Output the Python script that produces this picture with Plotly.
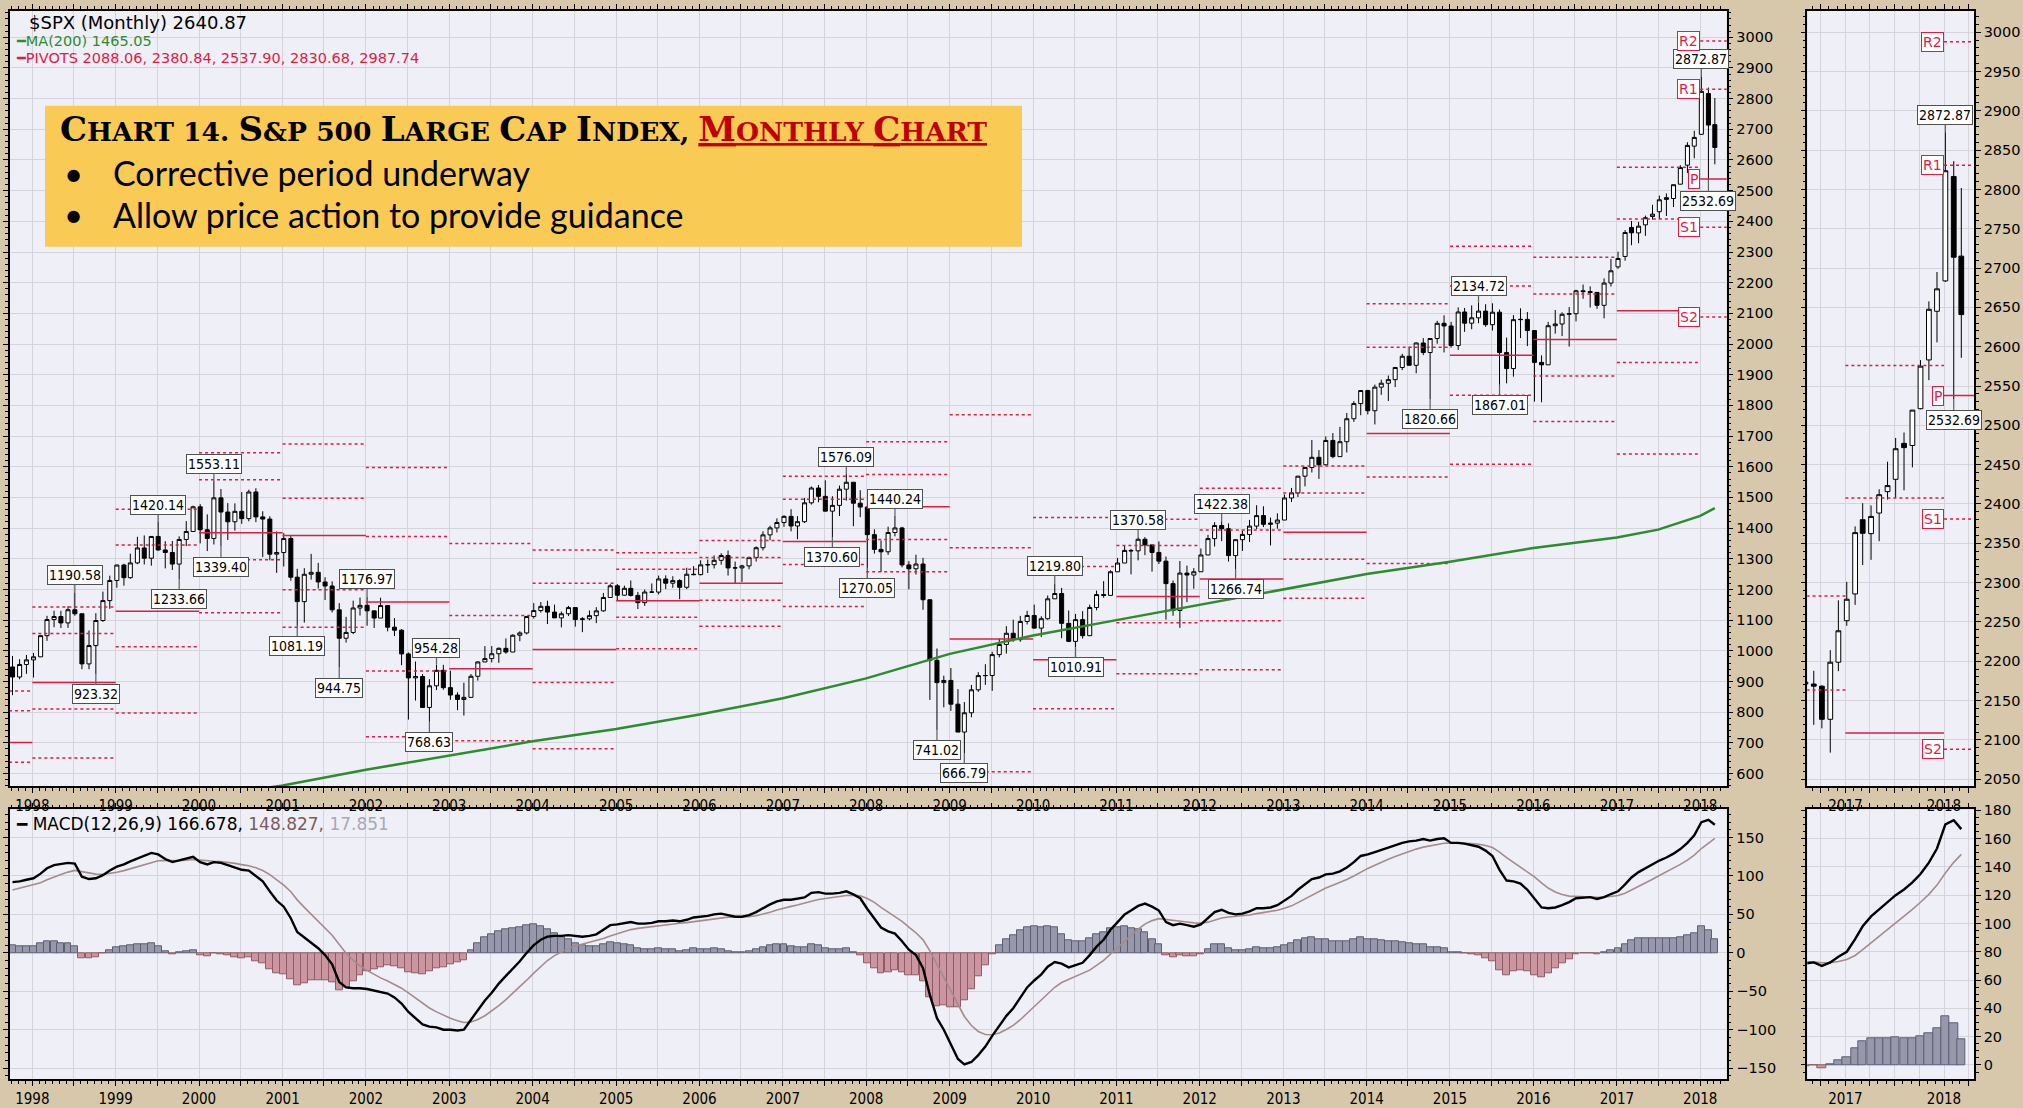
import plotly.graph_objects as go
import pandas as pd

W, H = 2023, 1108

# ---------------- monthly S&P 500 candles, Oct 1997 .. Mar 2018 ----------------
first_month = "1997-10-01"
opens = [
    947.3, 914.6, 955.4,
    970.4, 980.3, 1049.3, 1101.8, 1111.8, 1090.8, 1133.8, 1120.7, 957.3, 1017.0, 1098.7, 1163.6,
    1229.2, 1279.6, 1238.3, 1286.4, 1335.2, 1301.8, 1372.7, 1328.7, 1320.4, 1282.7, 1362.9, 1388.9,
    1469.3, 1394.5, 1366.4, 1498.6, 1452.4, 1420.6, 1454.6, 1430.8, 1517.7, 1436.5, 1429.4, 1315.0,
    1320.3, 1366.0, 1239.9, 1160.3, 1249.5, 1255.8, 1224.4, 1211.2, 1133.6, 1040.9, 1059.8, 1139.5,
    1148.1, 1130.2, 1106.7, 1147.4, 1076.9, 1067.1, 989.8, 911.6, 916.1, 815.3, 885.8, 936.3,
    879.8, 855.7, 841.2, 848.2, 916.9, 963.6, 974.5, 990.3, 1008.0, 996.0, 1050.7, 1058.2,
    1111.9, 1131.1, 1144.9, 1126.2, 1107.3, 1120.7, 1140.8, 1101.7, 1104.2, 1114.6, 1130.2, 1173.8,
    1211.9, 1181.3, 1203.6, 1180.6, 1156.9, 1191.5, 1191.3, 1234.2, 1220.3, 1228.8, 1207.0, 1249.5,
    1248.3, 1280.1, 1280.7, 1294.9, 1310.6, 1270.1, 1270.2, 1276.7, 1303.8, 1335.9, 1377.9, 1400.6,
    1418.3, 1438.2, 1406.8, 1420.9, 1482.4, 1530.6, 1503.4, 1455.3, 1474.0, 1526.8, 1549.4, 1481.1,
    1468.4, 1378.6, 1330.6, 1322.7, 1385.6, 1400.4, 1280.0, 1267.4, 1282.8, 1166.4, 968.8, 896.2,
    903.3, 825.9, 735.1, 797.9, 872.8, 919.1, 919.3, 987.5, 1020.6, 1057.1, 1036.2, 1095.6,
    1115.1, 1073.9, 1104.5, 1169.4, 1186.7, 1089.4, 1030.7, 1101.6, 1049.3, 1141.2, 1183.3, 1180.6,
    1257.6, 1286.1, 1327.2, 1325.8, 1363.6, 1345.2, 1320.6, 1292.3, 1218.9, 1131.4, 1253.3, 1247.0,
    1257.6, 1312.4, 1365.7, 1408.5, 1397.9, 1310.3, 1362.2, 1379.3, 1406.6, 1440.7, 1412.2, 1416.2,
    1426.2, 1498.1, 1514.7, 1569.2, 1597.6, 1630.7, 1606.3, 1685.7, 1633.0, 1681.6, 1756.5, 1805.8,
    1848.4, 1782.6, 1859.5, 1872.3, 1884.0, 1923.6, 1960.2, 1930.7, 2003.4, 1972.3, 2018.1, 2067.6,
    2058.9, 1995.0, 2104.5, 2067.9, 2085.5, 2107.4, 2063.1, 2103.8, 1972.2, 1920.0, 2079.4, 2080.4,
    2043.9, 1940.2, 1932.2, 2059.7, 2065.3, 2097.0, 2098.9, 2173.6, 2171.0, 2168.3, 2126.2, 2198.8,
    2251.6, 2285.6, 2380.1, 2362.3, 2388.5, 2415.7, 2431.4, 2477.1, 2474.4, 2521.2, 2583.2, 2645.1,
    2683.7, 2816.5, 2715.2,
]
highs = [
    983.1, 972.6, 986.3,
    992.7, 1051.7, 1113.9, 1130.5, 1130.3, 1145.3, 1190.6, 1121.4, 1066.1, 1122.6, 1193.0, 1244.9,
    1280.4, 1283.8, 1316.6, 1371.6, 1376.0, 1372.9, 1420.1, 1357.3, 1357.8, 1373.2, 1422.7, 1473.1,
    1478.0, 1444.6, 1553.1, 1527.2, 1481.5, 1480.6, 1517.3, 1525.2, 1530.1, 1454.8, 1438.5, 1389.1,
    1383.4, 1376.4, 1267.4, 1269.3, 1315.9, 1286.6, 1239.8, 1226.3, 1155.4, 1110.6, 1163.4, 1173.6,
    1177.0, 1130.2, 1173.0, 1147.8, 1106.6, 1070.7, 994.5, 965.0, 924.0, 907.4, 954.3, 954.2,
    935.1, 864.6, 895.9, 924.2, 965.4, 1015.3, 1015.4, 1011.0, 1040.3, 1053.8, 1063.7, 1112.6,
    1155.4, 1158.9, 1163.2, 1150.6, 1127.7, 1146.3, 1140.8, 1109.7, 1131.5, 1142.1, 1188.5, 1217.3,
    1217.8, 1212.4, 1229.1, 1191.9, 1199.6, 1219.6, 1245.2, 1245.9, 1243.1, 1233.3, 1270.6, 1275.8,
    1294.9, 1297.6, 1310.9, 1318.2, 1326.7, 1290.7, 1280.4, 1306.7, 1340.3, 1389.5, 1407.9, 1431.8,
    1441.6, 1461.6, 1438.9, 1498.0, 1535.6, 1540.6, 1555.9, 1503.9, 1538.7, 1576.1, 1549.4, 1523.6,
    1471.8, 1396.0, 1359.7, 1404.6, 1440.2, 1404.1, 1292.2, 1313.2, 1303.0, 1167.0, 1007.5, 918.9,
    943.9, 875.0, 832.9, 888.7, 930.2, 956.2, 996.7, 1039.5, 1080.2, 1101.4, 1113.7, 1130.4,
    1150.5, 1112.4, 1180.2, 1219.8, 1205.1, 1131.2, 1120.0, 1129.2, 1150.3, 1196.1, 1227.1, 1262.6,
    1302.7, 1344.1, 1332.3, 1370.6, 1370.6, 1345.2, 1356.5, 1307.4, 1229.3, 1292.7, 1277.6, 1269.4,
    1333.5, 1378.0, 1419.2, 1422.4, 1415.3, 1363.5, 1391.7, 1426.7, 1474.5, 1471.0, 1434.3, 1448.0,
    1509.9, 1530.9, 1570.3, 1597.6, 1687.2, 1654.2, 1698.8, 1709.7, 1729.9, 1775.2, 1813.6, 1849.4,
    1850.8, 1867.9, 1884.0, 1897.3, 1924.0, 1968.2, 1991.4, 2005.0, 2019.3, 2018.2, 2075.8, 2093.6,
    2072.4, 2119.6, 2117.5, 2125.9, 2134.7, 2129.9, 2132.8, 2112.7, 2021.0, 2094.3, 2116.5, 2104.3,
    2043.9, 1963.0, 2072.2, 2111.1, 2103.5, 2120.6, 2177.1, 2193.8, 2187.9, 2169.6, 2214.1, 2277.5,
    2301.0, 2371.5, 2401.0, 2398.2, 2418.7, 2453.8, 2484.0, 2490.9, 2519.4, 2583.0, 2657.7, 2695.0,
    2872.9, 2836.0, 2801.9,
]
lows = [
    855.3, 907.1, 924.9,
    912.8, 980.3, 1032.4, 1076.7, 1074.4, 1074.7, 1114.3, 940.0, 939.9, 923.3, 1094.1, 1136.9,
    1205.5, 1212.2, 1234.7, 1282.6, 1281.4, 1277.5, 1326.0, 1268.7, 1263.4, 1233.7, 1341.0, 1387.4,
    1350.1, 1325.1, 1346.6, 1339.4, 1361.1, 1391.5, 1413.9, 1421.9, 1419.4, 1305.8, 1294.9, 1254.1,
    1274.6, 1228.3, 1081.2, 1092.0, 1232.0, 1203.0, 1165.5, 1124.9, 944.8, 1026.8, 1054.3, 1114.9,
    1081.7, 1074.4, 1106.7, 1063.5, 1048.0, 952.9, 775.7, 837.7, 815.3, 768.6, 872.0, 873.0,
    840.3, 806.3, 788.9, 847.9, 902.8, 963.6, 962.1, 960.8, 990.4, 995.9, 1031.2, 1053.4,
    1105.1, 1124.4, 1087.2, 1107.2, 1076.3, 1113.3, 1078.8, 1060.7, 1099.2, 1090.2, 1127.6, 1173.8,
    1163.8, 1180.1, 1176.8, 1136.2, 1146.2, 1188.3, 1183.6, 1201.1, 1205.4, 1168.2, 1201.1, 1246.6,
    1245.7, 1253.6, 1268.4, 1280.7, 1245.3, 1219.3, 1224.5, 1265.7, 1290.9, 1327.1, 1360.5, 1385.9,
    1403.9, 1389.4, 1364.0, 1416.4, 1476.7, 1484.2, 1454.3, 1370.6, 1439.3, 1489.6, 1406.1, 1435.7,
    1270.1, 1316.8, 1257.0, 1312.8, 1373.1, 1272.0, 1200.4, 1248.6, 1133.5, 839.8, 741.0, 815.7,
    804.2, 734.5, 666.8, 783.3, 866.1, 888.9, 869.3, 978.5, 991.0, 1029.4, 1029.4, 1085.9,
    1071.6, 1044.5, 1101.4, 1169.4, 1040.8, 1028.3, 1010.9, 1039.7, 1048.1, 1131.9, 1173.0, 1179.5,
    1257.6, 1286.1, 1249.1, 1294.7, 1311.8, 1258.1, 1282.9, 1101.5, 1114.2, 1074.8, 1158.7, 1202.4,
    1257.6, 1312.4, 1340.0, 1357.4, 1291.0, 1266.7, 1325.4, 1354.7, 1396.6, 1403.3, 1343.4, 1398.1,
    1426.2, 1485.0, 1501.5, 1536.0, 1581.3, 1560.3, 1604.6, 1627.5, 1633.0, 1646.5, 1746.2, 1767.9,
    1770.5, 1737.9, 1834.4, 1814.4, 1859.8, 1915.0, 1930.7, 1904.8, 1964.0, 1820.7, 2001.0, 1972.6,
    1988.1, 1980.9, 2039.7, 2048.4, 2067.9, 2056.3, 2044.0, 1867.0, 1871.9, 1893.7, 2019.4, 1993.3,
    1812.3, 1810.1, 1932.2, 2033.8, 2025.9, 1991.7, 2074.0, 2147.6, 2119.1, 2114.7, 2083.8, 2187.4,
    2245.1, 2271.7, 2322.3, 2329.0, 2352.7, 2405.7, 2407.7, 2417.4, 2446.6, 2520.4, 2557.5, 2605.5,
    2682.4, 2532.7, 2585.9,
]
closes = [
    914.6, 955.4, 970.4,
    980.3, 1049.3, 1101.8, 1111.8, 1090.8, 1133.8, 1120.7, 957.3, 1017.0, 1098.7, 1163.6, 1229.2,
    1279.6, 1238.3, 1286.4, 1335.2, 1301.8, 1372.7, 1328.7, 1320.4, 1282.7, 1362.9, 1388.9, 1469.3,
    1394.5, 1366.4, 1498.6, 1452.4, 1420.6, 1454.6, 1430.8, 1517.7, 1436.5, 1429.4, 1315.0, 1320.3,
    1366.0, 1239.9, 1160.3, 1249.5, 1255.8, 1224.4, 1211.2, 1133.6, 1040.9, 1059.8, 1139.5, 1148.1,
    1130.2, 1106.7, 1147.4, 1076.9, 1067.1, 989.8, 911.6, 916.1, 815.3, 885.8, 936.3, 879.8,
    855.7, 841.2, 848.2, 916.9, 963.6, 974.5, 990.3, 1008.0, 996.0, 1050.7, 1058.2, 1111.9,
    1131.1, 1144.9, 1126.2, 1107.3, 1120.7, 1140.8, 1101.7, 1104.2, 1114.6, 1130.2, 1173.8, 1211.9,
    1181.3, 1203.6, 1180.6, 1156.9, 1191.5, 1191.3, 1234.2, 1220.3, 1228.8, 1207.0, 1249.5, 1248.3,
    1280.1, 1280.7, 1294.9, 1310.6, 1270.1, 1270.2, 1276.7, 1303.8, 1335.9, 1377.9, 1400.6, 1418.3,
    1438.2, 1406.8, 1420.9, 1482.4, 1530.6, 1503.4, 1455.3, 1474.0, 1526.8, 1549.4, 1481.1, 1468.4,
    1378.6, 1330.6, 1322.7, 1385.6, 1400.4, 1280.0, 1267.4, 1282.8, 1166.4, 968.8, 896.2, 903.3,
    825.9, 735.1, 797.9, 872.8, 919.1, 919.3, 987.5, 1020.6, 1057.1, 1036.2, 1095.6, 1115.1,
    1073.9, 1104.5, 1169.4, 1186.7, 1089.4, 1030.7, 1101.6, 1049.3, 1141.2, 1183.3, 1180.6, 1257.6,
    1286.1, 1327.2, 1325.8, 1363.6, 1345.2, 1320.6, 1292.3, 1218.9, 1131.4, 1253.3, 1247.0, 1257.6,
    1312.4, 1365.7, 1408.5, 1397.9, 1310.3, 1362.2, 1379.3, 1406.6, 1440.7, 1412.2, 1416.2, 1426.2,
    1498.1, 1514.7, 1569.2, 1597.6, 1630.7, 1606.3, 1685.7, 1633.0, 1681.6, 1756.5, 1805.8, 1848.4,
    1782.6, 1859.5, 1872.3, 1884.0, 1923.6, 1960.2, 1930.7, 2003.4, 1972.3, 2018.1, 2067.6, 2058.9,
    1995.0, 2104.5, 2067.9, 2085.5, 2107.4, 2063.1, 2103.8, 1972.2, 1920.0, 2079.4, 2080.4, 2043.9,
    1940.2, 1932.2, 2059.7, 2065.3, 2097.0, 2098.9, 2173.6, 2171.0, 2168.3, 2126.2, 2198.8, 2238.8,
    2278.9, 2363.6, 2362.7, 2384.2, 2411.8, 2423.4, 2470.3, 2471.7, 2519.4, 2575.3, 2647.6, 2673.6,
    2823.8, 2713.8, 2640.87,
]

# ---------------- MACD(12,26,9) monthly ----------------
macd_line = [
    92, 93, 95,
    97, 103, 110, 114, 115, 117, 116, 99, 96, 97, 101, 107,
    112, 115, 119, 123, 126, 130, 128, 122, 118, 120, 123, 125,
    118, 115, 118, 117, 114, 111, 108, 107, 100, 93, 80, 68,
    60, 45, 27, 20, 14, 6, -3, -15, -38, -45, -46, -46,
    -47, -49, -51, -53, -58, -66, -77, -85, -93, -96, -97, -100,
    -100, -101, -100, -87, -74, -62, -52, -40, -30, -21, -11, 0,
    10, 17, 21, 22, 22, 23, 22, 21, 22, 24, 30, 36,
    37, 39, 40, 38, 38, 39, 41, 41, 42, 41, 43, 46,
    47, 48, 50, 51, 49, 47, 47, 49, 53, 58, 63, 67,
    69, 69, 70, 72, 78, 79, 77, 77, 78, 80, 76, 71,
    57, 45, 33, 28, 25, 15, 4, -3, -20, -55, -85, -100,
    -120, -138, -145, -142, -133, -122, -108, -95, -82, -72, -58, -45,
    -36, -28, -18, -12, -14, -19, -16, -13, -3, 8, 17, 30,
    40, 50, 55, 61, 64, 60, 55, 40, 36, 38, 36, 34,
    37, 45, 53, 56, 52, 50, 51, 54, 58, 58, 59, 62,
    68, 74, 82, 89, 96, 98, 102, 103, 106, 111, 118, 126,
    128, 131, 134, 137, 140, 143, 145, 146, 148, 146, 148, 149,
    143, 143, 142, 140, 138, 133, 126, 108, 94, 93, 90, 82,
    70, 59, 58, 59, 62, 66, 71, 72, 72.5, 70, 72.5, 76.5,
    80, 89, 98, 105, 110, 115, 120, 124, 129, 135, 143, 153,
    170, 173, 166.678,
]
signal_line = [
    81.6, 83.9, 86.1,
    88.3, 91.2, 95.0, 98.8, 102.0, 105.0, 107.2, 105.6, 103.7, 102.4, 102.1, 103.1,
    104.9, 106.9, 109.3, 112.0, 114.8, 117.8, 119.8, 120.2, 119.8, 119.8, 120.4, 121.3,
    120.6, 119.5, 119.2, 118.8, 117.8, 116.4, 114.7, 113.2, 110.6, 107.1, 101.7, 95.0,
    88.0, 79.4, 68.9, 59.1, 50.1, 41.3, 32.4, 22.9, 10.7, -0.4, -9.5, -16.8,
    -22.8, -28.0, -32.6, -36.7, -41.0, -46.0, -52.2, -58.8, -65.6, -71.7, -76.8, -81.4,
    -85.1, -88.3, -90.6, -89.9, -86.7, -81.8, -75.8, -68.6, -60.9, -52.9, -44.5, -35.6,
    -26.5, -17.8, -10.0, -3.6, 1.5, 5.8, 9.0, 11.4, 13.5, 15.6, 18.5, 22.0,
    25.0, 27.8, 30.2, 31.8, 33.0, 34.2, 35.6, 36.7, 37.8, 38.4, 39.3, 40.6,
    41.9, 43.1, 44.5, 45.8, 46.4, 46.5, 46.6, 47.1, 48.3, 50.2, 52.8, 55.6,
    58.3, 60.4, 62.3, 64.2, 67.0, 69.4, 70.9, 72.1, 73.3, 74.6, 74.9, 74.1,
    70.7, 65.6, 59.1, 52.9, 47.3, 40.8, 33.4, 26.1, 16.9, 2.5, -15.0, -32.0,
    -49.6, -67.3, -82.8, -94.6, -102.3, -106.2, -106.6, -104.3, -99.8, -94.3, -87.0, -78.6,
    -70.1, -61.7, -53.0, -44.8, -38.6, -34.7, -31.0, -27.4, -22.5, -16.4, -9.7, -1.8,
    6.6, 15.3, 23.2, 30.8, 37.4, 41.9, 44.5, 43.6, 42.1, 41.3, 40.2, 39.0,
    38.6, 39.9, 42.5, 45.2, 46.6, 47.3, 48.0, 49.2, 51.0, 52.4, 53.7, 55.4,
    57.9, 61.1, 65.3, 70.0, 75.2, 79.8, 84.2, 88.0, 91.6, 95.5, 100.0, 105.2,
    109.8, 114.0, 118.0, 121.8, 125.4, 128.9, 132.1, 134.9, 137.5, 139.2, 141.0, 142.6,
    142.7, 142.8, 142.6, 142.1, 141.3, 139.6, 136.9, 131.1, 123.7, 117.6, 112.1, 106.1,
    98.9, 90.9, 84.3, 79.2, 75.8, 73.8, 73.2, 73.0, 72.9, 72.3, 72.3, 73.1,
    74.5, 77.4, 81.5, 86.2, 91.0, 95.8, 100.6, 105.3, 110.0, 115.0, 120.6, 127.1,
    135.7, 143.2, 148.827,
]
macd_hist = [
    10.4, 9.1, 8.9,
    8.7, 11.8, 15.0, 15.2, 13.0, 12.0, 8.8, -6.6, -7.7, -5.4, -1.1, 3.9,
    7.1, 8.1, 9.7, 11.0, 11.2, 12.2, 8.2, 1.8, -1.8, 0.2, 2.6, 3.7,
    -2.6, -4.5, -1.2, -1.8, -3.8, -5.4, -6.7, -6.2, -10.6, -14.1, -21.7, -27.0,
    -28.0, -34.4, -41.9, -39.1, -36.1, -35.3, -35.4, -37.9, -48.7, -44.6, -36.5, -29.2,
    -24.2, -21.0, -18.4, -16.3, -17.0, -20.0, -24.8, -26.2, -27.4, -24.3, -20.2, -18.6,
    -14.9, -12.7, -9.4, 2.9, 12.7, 19.8, 23.8, 28.6, 30.9, 31.9, 33.5, 35.6,
    36.5, 34.8, 31.0, 25.6, 20.5, 17.2, 13.0, 9.6, 8.5, 8.4, 11.5, 14.0,
    12.0, 11.2, 9.8, 6.2, 5.0, 4.8, 5.4, 4.3, 4.2, 2.6, 3.7, 5.4,
    5.1, 4.9, 5.5, 5.2, 2.6, 0.5, 0.4, 1.9, 4.7, 7.8, 10.2, 11.4,
    10.7, 8.6, 7.7, 7.8, 11.0, 9.6, 6.1, 4.9, 4.7, 5.4, 1.1, -3.1,
    -13.7, -20.6, -26.1, -24.9, -22.3, -25.8, -29.4, -29.1, -36.9, -57.5, -70.0, -68.0,
    -70.4, -70.7, -62.2, -47.4, -30.7, -15.8, -1.4, 9.3, 17.8, 22.3, 29.0, 33.6,
    34.1, 33.7, 35.0, 32.8, 24.6, 15.7, 15.0, 14.4, 19.5, 24.4, 26.7, 31.8,
    33.4, 34.7, 31.8, 30.2, 26.6, 18.1, 10.5, -3.6, -6.1, -3.3, -4.2, -5.0,
    -1.6, 5.1, 10.5, 10.8, 5.4, 2.7, 3.0, 4.8, 7.0, 5.6, 5.3, 6.6,
    10.1, 12.9, 16.7, 19.0, 20.8, 18.2, 17.8, 15.0, 14.4, 15.5, 18.0, 20.8,
    18.2, 17.0, 16.0, 15.2, 14.6, 14.1, 12.9, 11.1, 10.5, 6.8, 7.0, 6.4,
    0.3, 0.2, -0.6, -2.1, -3.3, -6.6, -10.9, -23.1, -29.7, -24.6, -22.1, -24.1,
    -28.9, -31.9, -26.3, -20.2, -13.8, -7.8, -2.2, -1.0, -0.4, -2.3, 0.2, 3.4,
    5.5, 11.6, 16.5, 18.8, 19.0, 19.2, 19.4, 18.7, 19.0, 20.0, 22.4, 25.9,
    34.3, 29.8, 17.851,
]

# ---------------- 200-month moving average ----------------
ma_dates = ["2000-07-01", "2001-01-01", "2002-01-01", "2003-01-01", "2004-01-01", "2005-01-01",
            "2006-01-01", "2007-01-01", "2008-01-01", "2009-01-01", "2010-01-01", "2011-01-01",
            "2012-01-01", "2013-01-01", "2014-01-01", "2015-01-01", "2016-01-01", "2017-01-01",
            "2017-07-01", "2018-01-01", "2018-03-06"]
ma_values = [540, 561, 612, 658, 705, 745, 792, 845, 910, 990, 1050, 1100,
             1150, 1200, 1250, 1290, 1335, 1369, 1395, 1440, 1465.05]

# ---------------- annual pivot levels ----------------
pivot_years = list(range(1997, 2019))
piv_p = [701.1, 896.9, 1129.0, 1384.9, 1375.7, 1158.7, 941.8, 1004.5, 1163.3, 1220.1, 1356.5,
         1469.5, 1038.7, 970.8, 1177.1, 1234.3, 1386.5, 1708.0, 1963.5, 2015.2, 2108.8, 2537.90]
piv_r1 = [804.9, 1056.7, 1345.2, 1557.5, 1497.4, 1372.7, 1115.0, 1220.1, 1265.9, 1304.0, 1493.7,
          1575.0, 1336.3, 1274.7, 1343.2, 1393.9, 1514.2, 1989.8, 2189.1, 2163.4, 2407.5, 2830.68]
piv_s1 = [637.0, 810.6, 1013.1, 1296.6, 1198.6, 934.1, 706.6, 896.4, 1109.3, 1164.4, 1281.2,
          1362.9, 605.6, 811.2, 1091.5, 1098.0, 1298.5, 1566.6, 1833.4, 1895.7, 1940.1, 2380.84]
piv_r2 = [869.0, 1143.0, 1461.1, 1645.8, 1674.5, 1597.3, 1350.1, 1328.2, 1319.9, 1359.7, 1569.0,
          1681.6, 1769.4, 1434.4, 1428.8, 1530.1, 1602.2, 2131.3, 2319.1, 2282.9, 2576.2, 2987.74]
piv_s2 = [533.2, 650.7, 796.9, 1123.9, 1076.9, 720.1, 533.5, 680.8, 1006.7, 1080.4, 1144.0,
          1257.4, 307.9, 507.2, 925.4, 938.5, 1170.9, 1284.8, 1607.9, 1747.5, 1641.4, 2088.06]

# ---------------- labelled highs / lows ----------------
label_months = ["1998-07", "1998-10", "1999-07", "1999-10", "2000-03", "2000-04", "2001-03",
                "2001-09", "2002-01", "2002-10", "2002-11", "2007-10", "2007-08", "2008-05",
                "2008-01", "2008-11", "2009-03", "2010-04", "2010-07", "2011-04", "2012-04",
                "2012-06", "2014-10", "2015-05", "2015-08", "2018-01", "2018-02"]
label_values = [1190.58, 923.32, 1420.14, 1233.66, 1553.11, 1339.40, 1081.19, 944.75, 1176.97,
                768.63, 954.28, 1576.09, 1370.60, 1440.24, 1270.05, 741.02, 666.79, 1219.80,
                1010.91, 1370.58, 1422.38, 1266.74, 1820.66, 2134.72, 1867.01, 2872.87, 2532.69]
label_kind = ["high", "low", "high", "low", "high", "low", "low", "low", "high", "low", "high",
              "high", "low", "high", "low", "low", "low", "high", "low", "high", "high", "low",
              "low", "high", "low", "high", "low"]
zoom_label_months = ["2018-01", "2018-02"]
zoom_label_values = [2872.87, 2532.69]
zoom_label_kind = ["high", "low"]

pivot_tags = ["R2", "R1", "P", "S1", "S2"]

# ---------------- styling ----------------
TAN = "#D7C8AC"
PLOT_BG = "#EEEFF7"
GRID = "#D4D4DA"
RED = "#DC1E46"
GREEN = "#2E8B2E"
SIG = "#A48C8C"
POS_FILL, POS_LINE = "#9898AC", "#5E5E72"
NEG_FILL, NEG_LINE = "#CC96A0", "#8E5C66"

months = pd.date_range(first_month, periods=len(closes), freq="MS") + pd.Timedelta(days=5)
xdates = [d.strftime("%Y-%m-%d") for d in months]


def mday(ym):
    return ym + "-06"


fig = go.Figure()

candle_style = dict(
    increasing=dict(line=dict(color="black", width=1), fillcolor="white"),
    decreasing=dict(line=dict(color="black", width=1), fillcolor="black"),
    whiskerwidth=0, showlegend=False, hoverinfo="skip",
)


def pivot_xy(levels):
    xs, ys = [], []
    for yr, lv in zip(pivot_years, levels):
        end = f"{yr + 1}-01-01" if yr < pivot_years[-1] else f"{yr}-05-01"
        xs += [f"{yr}-01-01", end, None]
        ys += [lv, lv, None]
    return xs, ys


for xa, ya in (("x", "y"), ("x2", "y2")):
    for lv in (piv_r2, piv_r1, piv_s1, piv_s2):
        px_, py_ = pivot_xy(lv)
        fig.add_trace(go.Scatter(x=px_, y=py_, mode="lines", xaxis=xa, yaxis=ya,
                                 line=dict(color=RED, width=1.5, dash="dot"),
                                 hoverinfo="skip", showlegend=False))
    px_, py_ = pivot_xy(piv_p)
    fig.add_trace(go.Scatter(x=px_, y=py_, mode="lines", xaxis=xa, yaxis=ya,
                             line=dict(color=RED, width=1.5), hoverinfo="skip", showlegend=False))

fig.add_trace(go.Scatter(x=ma_dates, y=ma_values, mode="lines", xaxis="x", yaxis="y",
                         line=dict(color=GREEN, width=2.5), hoverinfo="skip", showlegend=False))

fig.add_trace(go.Candlestick(x=xdates, open=opens, high=highs, low=lows, close=closes,
                             xaxis="x", yaxis="y", **candle_style))
fig.add_trace(go.Candlestick(x=xdates, open=opens, high=highs, low=lows, close=closes,
                             xaxis="x2", yaxis="y2", **candle_style))

bar_fill = [POS_FILL if v >= 0 else NEG_FILL for v in macd_hist]
bar_line = [POS_LINE if v >= 0 else NEG_LINE for v in macd_hist]
month_ms = 30.4 * 24 * 3600 * 1000
for xa, ya in (("x3", "y3"), ("x4", "y4")):
    fig.add_trace(go.Bar(x=xdates, y=macd_hist, xaxis=xa, yaxis=ya, width=[month_ms] * len(xdates),
                         marker=dict(color=bar_fill, line=dict(color=bar_line, width=1)),
                         hoverinfo="skip", showlegend=False))
    fig.add_trace(go.Scatter(x=xdates, y=signal_line, mode="lines", xaxis=xa, yaxis=ya,
                             line=dict(color=SIG, width=1.6), hoverinfo="skip", showlegend=False))
    fig.add_trace(go.Scatter(x=xdates, y=macd_line, mode="lines", xaxis=xa, yaxis=ya,
                             line=dict(color="black", width=2.4), hoverinfo="skip", showlegend=False))

# ---------------- axes ----------------
XFONT = dict(family="DejaVu Sans Condensed", size=15, color="black")
YFONT = dict(family="DejaVu Sans", size=14.5, color="black")
common = dict(showline=True, linecolor="black", linewidth=1.5, mirror="allticks",
              gridcolor=GRID, gridwidth=1, zeroline=False, ticks="outside",
              tickcolor="black", ticklen=5, tickwidth=1)

main_tickvals = [f"{y}-01-01" for y in range(1998, 2019)] + [f"{y}-07-01" for y in range(1997, 2018)]
main_ticktext = [str(y) for y in range(1998, 2019)] + [""] * 21
zoom_tickvals = ["2016-10-01", "2017-01-01", "2017-04-01", "2017-07-01", "2017-10-01",
                 "2018-01-01", "2018-04-01"]
zoom_ticktext = ["", "2017", "", "", "", "2018", ""]
minor_x = dict(tickmode="linear", dtick="M1", tick0="1997-01-01", ticks="outside",
               ticklen=3, tickcolor="black", showgrid=False)

main_range = ["1997-09-25", "2018-04-27"]
zoom_range = ["2016-08-13", "2018-04-22"]
xd_main = [10 / W, 1726.7 / W]
xd_zoom = [1807.3 / W, 1974 / W]
yd_price = [1 - 790 / H, 1 - 4 / H]
yd_macd = [1 - 1086.7 / H, 1 - 813.3 / H]

fig.update_layout(
    width=W, height=H, margin=dict(l=0, r=0, t=0, b=0),
    paper_bgcolor=TAN, plot_bgcolor=PLOT_BG, showlegend=False, bargap=0, boxgap=0.1,
    xaxis=dict(domain=xd_main, anchor="y", type="date", range=main_range, tickmode="array",
               tickvals=main_tickvals, ticktext=main_ticktext, tickfont=XFONT, minor=minor_x,
               rangeslider=dict(visible=False), **common),
    yaxis=dict(domain=yd_price, anchor="x", side="right", range=[558.2, 3085.9], tickmode="linear",
               tick0=0, dtick=100, tickfont=YFONT,
               minor=dict(dtick=20, ticks="outside", ticklen=3, tickcolor="black", showgrid=False),
               **common),
    xaxis2=dict(domain=xd_zoom, anchor="y2", type="date", range=zoom_range, tickmode="array",
                tickvals=zoom_tickvals, ticktext=zoom_ticktext, tickfont=XFONT, minor=minor_x,
                rangeslider=dict(visible=False), **common),
    yaxis2=dict(domain=yd_price, anchor="x2", side="right", range=[2041, 3027], tickmode="linear",
                tick0=0, dtick=50, tickfont=YFONT,
                minor=dict(dtick=10, ticks="outside", ticklen=3, tickcolor="black", showgrid=False),
                **common),
    xaxis3=dict(domain=xd_main, anchor="y3", type="date", range=main_range, tickmode="array",
                tickvals=main_tickvals, ticktext=main_ticktext, tickfont=XFONT, minor=minor_x,
                **common),
    yaxis3=dict(domain=yd_macd, anchor="x3", side="right", range=[-164.1, 186.7], tickmode="linear",
                tick0=0, dtick=50, tickfont=YFONT,
                minor=dict(dtick=10, ticks="outside", ticklen=3, tickcolor="black", showgrid=False),
                **common),
    xaxis4=dict(domain=xd_zoom, anchor="y4", type="date", range=zoom_range, tickmode="array",
                tickvals=zoom_tickvals, ticktext=zoom_ticktext, tickfont=XFONT, minor=minor_x,
                **common),
    yaxis4=dict(domain=yd_macd, anchor="x4", side="right", range=[-9.9, 180.7], tickmode="linear",
                tick0=0, dtick=20, tickfont=YFONT,
                minor=dict(dtick=5, ticks="outside", ticklen=3, tickcolor="black", showgrid=False),
                **common),
)

# ---------------- value call-outs ----------------
LBL_FONT = dict(family="DejaVu Sans Condensed", size=14, color="black")


def add_callouts(mlist, vlist, klist, xr, yr):
    for m, v, k in zip(mlist, vlist, klist):
        fig.add_annotation(x=mday(m), y=v, xref=xr, yref=yr, text=f"{v:.2f}",
                           showarrow=True, arrowhead=0, arrowwidth=1.2, arrowcolor="#606060",
                           ax=0, ay=-17 if k == "high" else 20, font=LBL_FONT,
                           bgcolor="white", bordercolor="#505050", borderwidth=1, borderpad=1)


add_callouts(label_months, label_values, label_kind, "x", "y")
add_callouts(zoom_label_months, zoom_label_values, zoom_label_kind, "x2", "y2")

tag_levels = [piv_r2[-1], piv_r1[-1], piv_p[-1], piv_s1[-1], piv_s2[-1]]
for xr, yr in (("x", "y"), ("x2", "y2")):
    for nm, lv in zip(pivot_tags, tag_levels):
        fig.add_annotation(x=f"{pivot_years[-1]}-01-01", y=lv, xref=xr, yref=yr, text=nm,
                           showarrow=False, xanchor="right", yanchor="middle",
                           font=dict(family="DejaVu Sans", size=14, color=RED),
                           bgcolor="white", bordercolor=RED, borderwidth=1, borderpad=1)

# ---------------- panel legends ----------------
fig.add_annotation(xref="paper", yref="paper", x=27 / W, y=1 - 16 / H, xanchor="left",
                   yanchor="middle", showarrow=False,
                   text=f"$SPX (Monthly) {closes[-1]:.2f}",
                   font=dict(family="DejaVu Sans", size=18, color="black"))
fig.add_annotation(xref="paper", yref="paper", x=14 / W, y=1 - 34 / H, xanchor="left",
                   yanchor="middle", showarrow=False,
                   text=f"<b>━</b>MA(200) {ma_values[-1]:.2f}",
                   font=dict(family="DejaVu Sans", size=14.5, color=GREEN))
fig.add_annotation(xref="paper", yref="paper", x=14 / W, y=1 - 52 / H, xanchor="left",
                   yanchor="middle", showarrow=False,
                   text="<b>━</b>PIVOTS " + ", ".join(f"{v:.2f}" for v in
                                                   (piv_s2[-1], piv_s1[-1], piv_p[-1], piv_r1[-1], piv_r2[-1])),
                   font=dict(family="DejaVu Sans", size=14.5, color=RED))
fig.add_annotation(xref="paper", yref="paper", x=14 / W, y=1 - 828 / H, xanchor="left",
                   yanchor="middle", showarrow=False,
                   text=(f"<b>━</b> MACD(12,26,9) {macd_line[-1]:.3f}, "
                         f"<span style='color:#7A5C5C'>{signal_line[-1]:.3f},</span> "
                         f"<span style='color:#A8A8B8'>{macd_hist[-1]:.3f}</span>"),
                   font=dict(family="DejaVu Sans", size=17, color="black"))

# ---------------- title box ----------------
fig.add_shape(type="rect", xref="paper", yref="paper", x0=45 / W, x1=1022 / W,
              y0=1 - 243 / H, y1=1 - 100 / H, fillcolor="#F9CB55", line=dict(width=0),
              layer="above")


def small_caps(text, big=34):
    out = []
    for word in text.split(" "):
        if word and word[0].isalpha():
            out.append(f"<span style='font-size:{big}px'>{word[0]}</span>{word[1:]}")
        else:
            out.append(word)
    return " ".join(out)


title_html = ("<b>" + small_caps("CHART 14. S&amp;P 500 LARGE CAP INDEX,") + " "
              + "<span style='color:#C00000'><u>" + small_caps("MONTHLY CHART") + "</u></span></b>")
fig.add_annotation(xref="paper", yref="paper", x=58 / W, y=1 - 124 / H, xanchor="left",
                   yanchor="middle", showarrow=False, text=title_html,
                   font=dict(family="DejaVu Serif", size=26.5, color="black"))

bullets = ["Corrective period underway", "Allow price action to provide guidance"]
for i, b in enumerate(bullets):
    yy = 1 - (168 + 42 * i) / H
    fig.add_annotation(xref="paper", yref="paper", x=62 / W, y=yy, xanchor="left",
                       yanchor="middle", showarrow=False, text="•",
                       font=dict(family="Lato", size=33, color="black"))
    fig.add_annotation(xref="paper", yref="paper", x=111 / W, y=yy, xanchor="left",
                       yanchor="middle", showarrow=False, text=b,
                       font=dict(family="Lato", size=34, color="black"))

fig.write_html("out.html", config={"displayModeBar": False},
               post_script="document.body.style.margin='0';document.body.style.overflow='hidden';")
